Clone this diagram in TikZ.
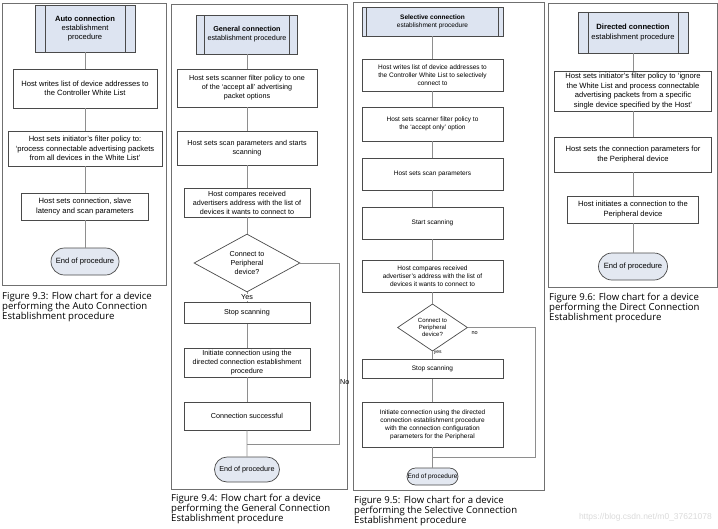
\documentclass[tikz,border=0pt]{standalone}
\usepackage{fontspec}
\setmainfont{Liberation Sans}
\newfontfamily\capfont{Open Sans}
\usetikzlibrary{shapes.geometric,shapes.misc}
\definecolor{headblue}{HTML}{DDE4F1}
\definecolor{endblue}{HTML}{E3E8F1}
\definecolor{boxgray}{HTML}{4A4A4A}
\definecolor{linegray}{HTML}{8E8E8E}
\definecolor{framegray}{HTML}{707070}
\definecolor{markgray}{HTML}{DADADA}

\begin{document}
\begin{tikzpicture}[x=1pt, y=-1pt,
    proc node/.style={rectangle, draw=boxgray, line width=0.7pt, align=center, inner sep=1pt},
    head node/.style={proc node, fill=headblue, path picture={
        \draw[boxgray, line width=0.7pt] ([xshift=#1]path picture bounding box.north west) -- ([xshift=#1]path picture bounding box.south west);
        \draw[boxgray, line width=0.7pt] ([xshift=-#1]path picture bounding box.north east) -- ([xshift=-#1]path picture bounding box.south east);}},
    head node/.default=9pt,
    end node/.style={rounded rectangle, draw=boxgray, fill=endblue, line width=0.7pt, inner sep=1pt},
    dec node/.style={diamond, draw=boxgray, line width=0.7pt, align=center, inner sep=0pt},
    link line/.style={draw=linegray, line width=0.8pt},
    panel frame/.style={draw=framegray, line width=0.8pt},
    cap text/.style={anchor=north west, align=left, inner sep=0pt, font=\capfont\fontsize{9.6}{10}\selectfont}]

  \useasboundingbox (0,0) rectangle (718,528);

  % panel frames
  \draw[panel frame] (2,3) rectangle (166,285);
  \draw[panel frame] (171,4) rectangle (347,489);
  \draw[panel frame] (353,2) rectangle (544,490);
  \draw[panel frame] (548,3) rectangle (717,287);

  % auto connection
  \begin{scope}[font=\fontsize{7.6}{9.4}\selectfont]
  \node[head node=10pt, minimum width=100pt, minimum height=47pt] (a0) at (85,28.5) {\textbf{Auto connection}\\establishment\\procedure};
  \node[proc node, minimum width=144pt, minimum height=39pt] (a1) [node distance=60pt, below of=a0] {Host writes list of device addresses to\\the Controller White List};
  \node[proc node, minimum width=154pt, minimum height=35pt] (a2) [node distance=60pt, below of=a1] {Host sets initiator's filter policy to:\\`process connectable advertising packets\\from all devices in the White List'};
  \node[proc node, minimum width=127pt, minimum height=27pt] (a3) [node distance=58pt, below of=a2] {Host sets connection, slave\\latency and scan parameters};
  \node[end node, minimum width=70pt, minimum height=27pt] (a4) [node distance=55pt, below of=a3] {End of procedure};

  \path[link line]
    (a0) edge (a1)
    (a1) edge (a2)
    (a2) edge (a3)
    (a3) edge (a4);
  \end{scope}

  % general connection
  \begin{scope}[font=\fontsize{7.2}{9}\selectfont]
  \node[head node=8pt, minimum width=101pt, minimum height=39pt] (g0) at (247,34.5) {\textbf{General connection}\\establishment procedure};
  \node[proc node, minimum width=140pt, minimum height=38pt] (g1) [node distance=53.5pt, below of=g0] {Host sets scanner filter policy to one\\of the `accept all' advertising\\packet options};
  \node[proc node, minimum width=140pt, minimum height=34pt] (g2) [node distance=60pt, below of=g1] {Host sets scan parameters and starts\\scanning};
  \node[proc node, minimum width=126pt, minimum height=29pt] (g3) [node distance=54.5pt, below of=g2] {Host compares received\\advertisers address with the list of\\devices it wants to connect to};
  \node[dec node, minimum width=106pt, minimum height=50pt] (g4) [node distance=60.5pt, below of=g3] {Connect to\\Peripheral\\device?};
  \node[proc node, minimum width=126pt, minimum height=21pt] (g5) [node distance=50pt, below of=g4] {Stop scanning};
  \node[proc node, minimum width=126pt, minimum height=29pt] (g6) [node distance=49.5pt, below of=g5] {Initiate connection using the\\directed connection establishment\\procedure};
  \node[proc node, minimum width=126pt, minimum height=28pt] (g7) [node distance=53.5pt, below of=g6] {Connection successful};
  \node[end node, minimum width=67pt, minimum height=25pt] (g8) [node distance=53.5pt, below of=g7] {End of procedure};
  \coordinate (gno) at (339,444);
  \coordinate (gjoin) at (247,444);

  \path[link line]
    (g0) edge (g1)
    (g1) edge (g2)
    (g2) edge (g3)
    (g3) edge (g4)
    (g4) edge node [fill=white, inner sep=1pt] {Yes} (g5)
    (g5) edge (g6)
    (g6) edge (g7)
    (g7) edge (g8);
  \draw[link line] (g4.east) -| node [pos=0.83, right, inner sep=0.8pt] {No} (gno) -- (gjoin);
  \end{scope}

  % selective connection
  \begin{scope}[font=\fontsize{6.5}{8}\selectfont]
  \node[head node=4.5pt, minimum width=141pt, minimum height=29pt] (s0) at (432.5,21.5) {\textbf{Selective connection}\\establishment procedure};
  \node[proc node, minimum width=141pt, minimum height=32pt] (s1) [node distance=53.5pt, below of=s0] {Host writes list of device addresses to\\the Controller White List to selectively\\connect to};
  \node[proc node, minimum width=141pt, minimum height=34pt] (s2) [node distance=49pt, below of=s1] {Host sets scanner filter policy to\\the `accept only' option};
  \node[proc node, minimum width=141pt, minimum height=32pt] (s3) [node distance=50pt, below of=s2] {Host sets scan parameters};
  \node[proc node, minimum width=141pt, minimum height=32pt] (s4) [node distance=49pt, below of=s3] {Start scanning};
  \node[proc node, minimum width=141pt, minimum height=32pt] (s5) [node distance=53pt, below of=s4] {Host compares received\\advertiser's address with the list of\\devices it wants to connect to};
  \node[dec node, minimum width=70pt, minimum height=41pt, font=\fontsize{6}{7}\selectfont] (s6) [node distance=51.5pt, below of=s5] {Connect to\\Peripheral\\device?};
  \node[proc node, minimum width=141pt, minimum height=19pt] (s7) [node distance=41.5pt, below of=s6] {Stop scanning};
  \node[proc node, minimum width=141pt, minimum height=45pt] (s8) [node distance=55.5pt, below of=s7] {Initiate connection using the directed\\connection establishment procedure\\with the connection configuration\\parameters for the Peripheral};
  \node[end node, minimum width=53pt, minimum height=17pt] (s9) [node distance=52pt, below of=s8] {End of procedure};
  \coordinate (sno) at (535,457);
  \coordinate (sjoin) at (432.5,457);

  \path[link line]
    (s0) edge (s1)
    (s1) edge (s2)
    (s2) edge (s3)
    (s3) edge (s4)
    (s4) edge (s5)
    (s5) edge (s6)
    (s6) edge node [right, pos=0.2, inner sep=1pt, font=\fontsize{5}{6}\selectfont] {yes} (s7)
    (s7) edge (s8)
    (s8) edge (s9);
  \draw[link line] (s6.east) -| node [pos=0.05, below, font=\fontsize{5.5}{6}\selectfont] {no} (sno) -- (sjoin);
  \end{scope}

  % directed connection
  \begin{scope}[font=\fontsize{7.6}{9.4}\selectfont]
  \node[head node=10pt, minimum width=110pt, minimum height=41pt] (d0) at (633,32.5) {\textbf{Directed connection}\\establishment procedure};
  \node[proc node, minimum width=157pt, minimum height=40pt] (d1) [node distance=58.5pt, below of=d0] {Host sets initiator's filter policy to `ignore\\the White List and process connectable\\advertising packets from a specific\\single device specified by the Host'};
  \node[proc node, minimum width=157pt, minimum height=35pt] (d2) [node distance=63.5pt, below of=d1] {Host sets the connection parameters for\\the Peripheral device};
  \node[proc node, minimum width=131pt, minimum height=27pt] (d3) [node distance=55pt, below of=d2] {Host initiates a connection to the\\Peripheral device};
  \node[end node, minimum width=71pt, minimum height=27pt] (d4) [node distance=57pt, below of=d3] {End of procedure};

  \path[link line]
    (d0) edge (d1)
    (d1) edge (d2)
    (d2) edge (d3)
    (d3) edge (d4);
  \end{scope}

  % captions
  \node[cap text] (c3) at (2,291.5) {Figure 9.3: Flow chart for a device\\performing the Auto Connection\\Establishment procedure};
  \node[cap text] (c4) at (171,494) {Figure 9.4: Flow chart for a device\\performing the General Connection\\Establishment procedure};
  \node[cap text] (c5) at (354,495.5) {Figure 9.5: Flow chart for a device\\performing the Selective Connection\\Establishment procedure};
  \node[cap text] (c6) at (549,293) {Figure 9.6: Flow chart for a device\\performing the Direct Connection\\Establishment procedure};

  \node[anchor=east, inner sep=0pt, text=markgray, font=\fontsize{8.5}{10}\selectfont] (mark) at (712,517) {https://blog.csdn.net/m0\_37621078};

\end{tikzpicture}
\end{document}
